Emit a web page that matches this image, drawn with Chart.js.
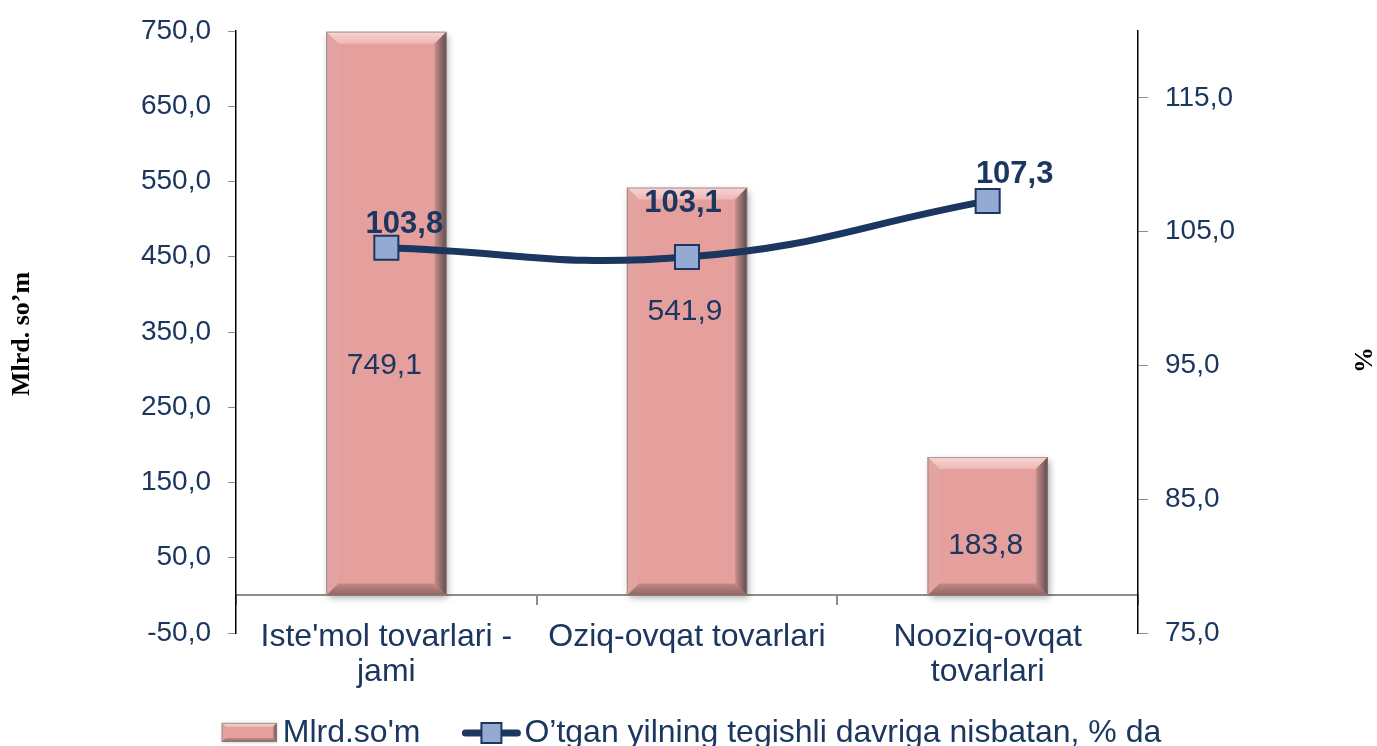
<!DOCTYPE html>
<html>
<head>
<meta charset="utf-8">
<script src="https://cdn.jsdelivr.net/npm/chart.js@4.4.1/dist/chart.umd.min.js"></script>
<style>
  html, body { margin: 0; padding: 0; background: #fff; }
  #wrap { width: 1377px; height: 746px; position: relative; }
</style>
</head>
<body>
<div id="wrap"><canvas id="tradeChart"></canvas></div>
<script>
const categories = [["Iste'mol tovarlari -", "jami"], "Oziq-ovqat tovarlari", ["Nooziq-ovqat", "tovarlari"]];
const mlrdSom = [749.1, 541.9, 183.8];
const growthPct = [103.8, 103.1, 107.3];
const leftTicks = [-50, 50, 150, 250, 350, 450, 550, 650, 750];
const rightTicks = [75, 85, 95, 105, 115];
const barLegend = "Mlrd.so'm";
const lineLegend = "O’tgan yilning tegishli davriga nisbatan, % da";

// label nudges (px), as placed in the original
const barLabelDy = [52, -80, 20];
const lineLabelDx = [18, -4, 27];
const lineLabelDy = [-23, -54, -26];

const NAVY = "#1B3760";
const BAR = "#E5A09E";
const MARKER = "#95AAD3";
const SANS = '"Liberation Sans", Arial, sans-serif';

const fmt = (v) => v.toFixed(1).replace(".", ",");

function bevelRect(ctx, l, t, r, b, bv) {
  ctx.save();
  // top
  let g = ctx.createLinearGradient(0, t, 0, t + bv);
  g.addColorStop(0, "#F7D6D5");
  g.addColorStop(1, "#EEB7B5");
  ctx.fillStyle = g;
  ctx.beginPath();
  ctx.moveTo(l, t); ctx.lineTo(r, t); ctx.lineTo(r - bv, t + bv); ctx.lineTo(l + bv, t + bv);
  ctx.closePath(); ctx.fill();
  // left
  ctx.fillStyle = "#E2A3A1";
  ctx.beginPath();
  ctx.moveTo(l, t); ctx.lineTo(l + bv, t + bv); ctx.lineTo(l + bv, b - bv); ctx.lineTo(l, b);
  ctx.closePath(); ctx.fill();
  // bottom
  g = ctx.createLinearGradient(0, b - bv, 0, b);
  g.addColorStop(0, "#C48987");
  g.addColorStop(1, "#8E6462");
  ctx.fillStyle = g;
  ctx.beginPath();
  ctx.moveTo(l, b); ctx.lineTo(l + bv, b - bv); ctx.lineTo(r - bv, b - bv); ctx.lineTo(r, b);
  ctx.closePath(); ctx.fill();
  // right
  g = ctx.createLinearGradient(r - bv, 0, r, 0);
  g.addColorStop(0, "#C98F8D");
  g.addColorStop(1, "#5E4B4B");
  ctx.fillStyle = g;
  ctx.beginPath();
  ctx.moveTo(r, t); ctx.lineTo(r, b); ctx.lineTo(r - bv, b - bv); ctx.lineTo(r - bv, t + bv);
  ctx.closePath(); ctx.fill();
  ctx.strokeStyle = "rgba(130,130,130,0.7)";
  ctx.lineWidth = 1;
  ctx.strokeRect(l + 0.5, t + 0.5, r - l - 1, b - t - 1);
  ctx.restore();
}

const bevelPlugin = {
  id: "bevel",
  beforeDatasetDraw(chart, args) {
    if (args.index !== 0) return;
    const ctx = chart.ctx;
    ctx.save();
    ctx.shadowColor = "rgba(0,0,0,0.35)";
    ctx.shadowBlur = 7;
    ctx.shadowOffsetX = 2;
    ctx.shadowOffsetY = 3;
  },
  afterDatasetDraw(chart, args) {
    if (args.index !== 0) return;
    const ctx = chart.ctx;
    ctx.restore();
    args.meta.data.forEach((el) => {
      const l = el.x - el.width / 2, r = el.x + el.width / 2;
      bevelRect(ctx, l, el.y, r, el.base, 12);
    });
  }
};

const labelPlugin = {
  id: "labels",
  afterDatasetsDraw(chart) {
    const ctx = chart.ctx;
    ctx.save();
    ctx.textAlign = "center";
    ctx.textBaseline = "middle";
    ctx.fillStyle = NAVY;

    ctx.font = "30px " + SANS;
    chart.getDatasetMeta(0).data.forEach((el, i) => {
      ctx.fillText(fmt(mlrdSom[i]), el.x - 2, (el.y + el.base) / 2 + barLabelDy[i]);
    });

    ctx.font = "bold 31px " + SANS;
    chart.getDatasetMeta(1).data.forEach((el, i) => {
      ctx.fillText(fmt(growthPct[i]), el.x + lineLabelDx[i], el.y + lineLabelDy[i]);
    });
    ctx.restore();
  },
  afterDraw(chart) {
    const ctx = chart.ctx;
    ctx.save();
    // axis titles
    ctx.fillStyle = "#000";
    ctx.font = 'bold 26px "Liberation Serif", "Times New Roman", serif';
    ctx.textAlign = "center";
    ctx.textBaseline = "middle";
    ctx.translate(22, 334);
    ctx.rotate(-Math.PI / 2);
    ctx.fillText("Mlrd. so’m", 0, 0);
    ctx.setTransform(1, 0, 0, 1, 0, 0);
    ctx.translate(1365, 360);
    ctx.rotate(-Math.PI / 2);
    ctx.fillText("%", 0, 0);
    ctx.setTransform(1, 0, 0, 1, 0, 0);

    // legend
    ctx.font = "32px " + SANS;
    ctx.textAlign = "left";
    const y = 733;
    const w1 = 55 + 6 + ctx.measureText(barLegend).width;
    const w2 = 58 + 4 + ctx.measureText(lineLegend).width;
    let x = chart.width / 2 + 3 - (w1 + 42 + w2) / 2;
    ctx.save();
    ctx.shadowColor = "rgba(0,0,0,0.3)";
    ctx.shadowBlur = 3;
    ctx.fillStyle = BAR;
    ctx.fillRect(x, y - 10, 55, 19);
    ctx.restore();
    bevelRect(ctx, x, y - 10, x + 55, y + 9, 4);
    ctx.fillStyle = NAVY;
    ctx.fillText(barLegend, x + 61, y);
    x += w1 + 42;
    ctx.strokeStyle = NAVY;
    ctx.lineWidth = 7;
    ctx.lineCap = "round";
    ctx.beginPath();
    ctx.moveTo(x + 3, y); ctx.lineTo(x + 55, y);
    ctx.stroke();
    ctx.fillStyle = MARKER;
    ctx.fillRect(x + 19, y - 10, 20, 20);
    ctx.lineWidth = 2;
    ctx.strokeRect(x + 19, y - 10, 20, 20);
    ctx.fillStyle = NAVY;
    ctx.fillText(lineLegend, x + 62, y);
    ctx.restore();
  }
};

new Chart(document.getElementById("tradeChart"), {
  type: "bar",
  data: {
    labels: categories,
    datasets: [
      {
        type: "bar",
        label: barLegend,
        data: mlrdSom,
        yAxisID: "y",
        backgroundColor: BAR,
        borderWidth: 0,
        barPercentage: 0.4,
        categoryPercentage: 1,
        order: 1
      },
      {
        type: "line",
        label: lineLegend,
        data: growthPct,
        yAxisID: "y1",
        borderColor: NAVY,
        borderWidth: 7,
        tension: 0.45,
        pointStyle: "rect",
        pointRadius: 17,
        pointBackgroundColor: MARKER,
        pointBorderColor: NAVY,
        pointBorderWidth: 2,
        order: 0
      }
    ]
  },
  options: {
    responsive: true,
    maintainAspectRatio: false,
    animation: false,
    layout: { padding: { top: 28, bottom: 113, left: 0, right: 0 } },
    plugins: {
      legend: { display: false },
      tooltip: { enabled: false }
    },
    scales: {
      x: {
        position: { y: 0 },
        offset: true,
        grid: { offset: true, drawOnChartArea: false, tickLength: 9, color: "#8C8C8C", lineWidth: 2 },
        border: { color: "#8C8C8C", width: 2 },
        ticks: {
          color: NAVY,
          font: { family: SANS, size: 32, lineHeight: 1.1 },
          padding: 15,
          maxRotation: 0,
          autoSkip: false
        }
      },
      y: {
        position: "left",
        min: -50,
        max: 750,
        grid: { drawOnChartArea: false, tickLength: 8, color: "#8C8C8C" },
        border: { color: "#000", width: 1.5 },
        ticks: {
          color: NAVY,
          font: { family: SANS, size: 28, lineHeight: 1 },
          padding: 17,
          callback: (v) => fmt(v)
        },
        afterBuildTicks: (s) => { s.ticks = leftTicks.map((v) => ({ value: v })); },
        afterFit: (s) => { s.width = 236; }
      },
      y1: {
        position: "right",
        min: 75,
        max: 120,
        grid: { drawOnChartArea: false, tickLength: 10, color: "#8C8C8C" },
        border: { color: "#000", width: 1.5 },
        ticks: {
          color: NAVY,
          font: { family: SANS, size: 28, lineHeight: 1 },
          padding: 17,
          callback: (v) => fmt(v)
        },
        afterBuildTicks: (s) => { s.ticks = rightTicks.map((v) => ({ value: v })); },
        afterFit: (s) => { s.width = 239; }
      }
    }
  },
  plugins: [bevelPlugin, labelPlugin]
});
</script>
</body>
</html>
